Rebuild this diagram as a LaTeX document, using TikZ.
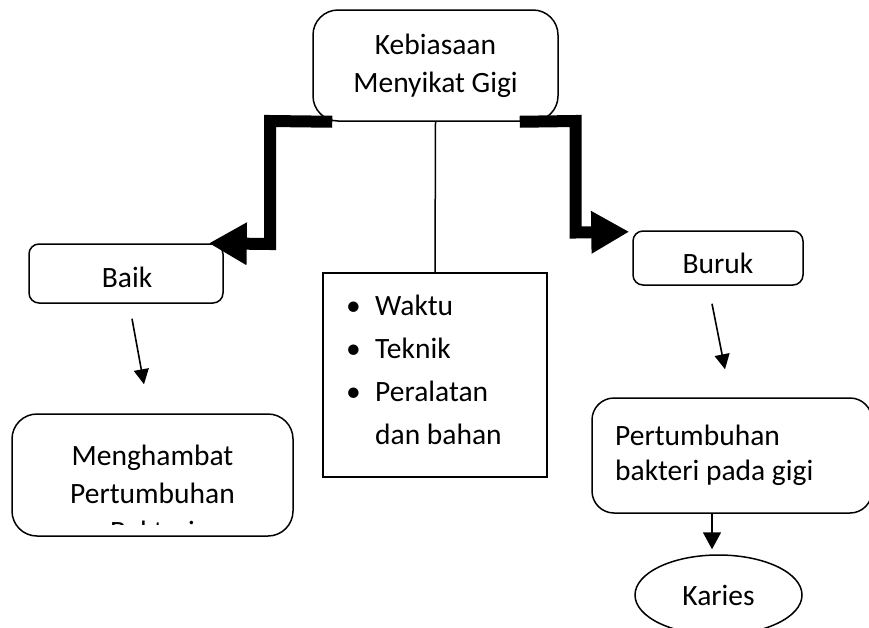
\documentclass[tikz,border=0pt]{standalone}
\usepackage{fontspec}
\setmainfont{Carlito}
\usetikzlibrary{arrows.meta,calc,shapes.geometric}
\tikzset{
  txt/.style={font=\fontsize{29.5pt}{38pt}\selectfont, inner sep=0pt},
  rbox/.style={draw=black, line width=1.5pt, fill=white, inner sep=0pt},
  sqbox/.style={draw=black, line width=1.5pt, fill=white, inner sep=0pt},
  bigarrow/.style={line width=12pt, line join=miter, line cap=butt, -{Triangle[length=38pt,width=40pt]}},
  thinarrow/.style={line width=1.6pt, -{Triangle[length=15pt,width=15pt]}},
  plain/.style={line width=1.5pt}
}
\begin{document}
\begin{tikzpicture}[x=1pt,y=-1pt]
\useasboundingbox (0,0) rectangle (869,627);
% boxes
\node[rbox, rounded corners=25pt, minimum width=245pt, minimum height=111pt] (top) at (435.5,65.5) {};
\node[txt, align=center] (toptxt) at (435.5,66) {Kebiasaan\\Menyikat Gigi};
\node[rbox, rounded corners=10pt, minimum width=194pt, minimum height=59pt] (baik) at (126,273.5) {};
\node[txt] (baiktxt) at (127,277) {Baik};
\node[rbox, rounded corners=10pt, minimum width=170pt, minimum height=54pt] (buruk) at (718,258) {};
\node[txt] (buruktxt) at (718,263) {Buruk};
\node[sqbox, minimum width=224pt, minimum height=204pt] (center) at (435,375) {};
\node[txt, align=left, anchor=west, font=\fontsize{29.5pt}{43pt}\selectfont] (list) at (346,370)
  {\makebox[29pt][l]{\textbullet}Waktu\\\makebox[29pt][l]{\textbullet}Teknik\\\makebox[29pt][l]{\textbullet}Peralatan\\\makebox[29pt][l]{}dan bahan};
\node[rbox, rounded corners=25pt, minimum width=281pt, minimum height=122pt] (mengh) at (152.5,475) {};
\begin{scope}
  \clip (0,0) rectangle (869,524);
  \node[txt, align=center] (menghtxt) at (152.5,493) {Menghambat\\Pertumbuhan\\Bakteri};
\end{scope}
\node[rbox, rounded corners=22pt, minimum width=280pt, minimum height=115pt] (pert) at (732,455.5) {};
\node[txt, align=left, anchor=west, font=\fontsize{29.5pt}{35pt}\selectfont] (perttxt) at (615,455.5) {Pertumbuhan\\bakteri pada gigi};
\node[rbox, ellipse, minimum width=167pt, minimum height=80pt] (karies) at (718.5,595) {};
\node[txt] (kariestxt) at (718.5,595) {Karies};
% coordinates for connectors
\coordinate (lstart) at ($(top.south west)+(20,0)$);
\coordinate (ltip) at ($(baik.north east)+(-15,0)$);
\coordinate (rstart) at ($(top.south east)+(-39,0)$);
\coordinate (rtip) at ($(buruk.north west)+(-3,1.5)$);
% thick connectors
\draw[bigarrow] (lstart) -- (270,121) -- (270,244) -- (ltip);
\draw[bigarrow] (rstart) -- (575.5,121) -- (575.5,232.5) -- (rtip);
% thin line
\draw[plain] (top.south) -- (center.north);
% thin arrows
\draw[thinarrow] ($(baik.south)+(6,15)$) -- ($(mengh.north)+(-8.5,-29)$);
\draw[thinarrow] ($(buruk.south)+(-6,18)$) -- ($(pert.north)+(-7,-28)$);
\draw[line width=1.6pt, -{Triangle[length=17pt,width=18pt]}] ($(pert.south)+(-20,0)$) -- ($(karies.north)+(-6.5,-5)$);
\end{tikzpicture}
\end{document}
